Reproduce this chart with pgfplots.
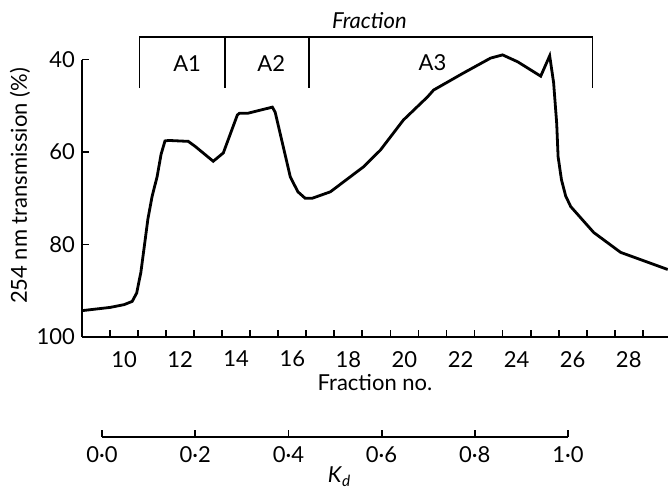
\documentclass[border=0pt]{standalone}
\usepackage{fontspec}
\setmainfont{Lato}
\usepackage{pgfplots}
\pgfplotsset{compat=1.18}

\begin{document}
\begin{tikzpicture}[x=1pt,y=1pt,font=\fontsize{11}{13}\selectfont]
\useasboundingbox (0,0) rectangle (334,-244);
% main trace
\begin{axis}[
    at={(41pt,-168.5pt)}, anchor=south west,
    scale only axis, width=293pt, height=138.75pt,
    xmin=8.5, xmax=29.4, ymin=40, ymax=100, y dir=reverse,
    axis x line=bottom, axis y line=left,
    axis line style={-, line width=0.9pt},
    tick align=inside, major tick length=3.5pt,
    tick style={line width=0.9pt, black},
    xtick={9.5,10.5,...,28.5}, xticklabels={},
    extra x ticks={10,12,...,28},
    extra x tick style={major tick length=0pt},
    xticklabel style={yshift=-3.5pt},
    ytick={40,60,80,100},
    /pgf/number format/assume math mode=true,
    xlabel={Fraction no.},
    xlabel style={at={(axis description cs:0.5,0)}, anchor=center, yshift=-23pt},
    ylabel={254 nm transmission (\%)},
    ylabel style={at={(axis description cs:-0.106,0.544)}, anchor=center},
    clip=false,
]
\addplot[black, line width=1.4pt] coordinates {
    (8.5,94.3) (9.5,93.6) (10.0,93.0) (10.29,92.3) (10.45,90.5)
    (10.6,86) (10.72,80.5) (10.85,74.5) (11.0,69.6) (11.18,65.3)
    (11.32,60.5) (11.46,57.6) (11.6,57.5)
    (12.29,57.7) (12.54,58.8) (13.18,62) (13.54,60.2) (14.04,52)
    (14.12,51.6) (14.43,51.6) (15.29,50.3) (15.39,51.4) (15.93,65.4)
    (16.2,68.6) (16.46,70) (16.71,70) (17.36,68.6) (18.54,63.2)
    (19.14,59.6) (19.96,53.1) (20.82,48.1) (21.04,46.6) (22.11,42.9)
    (23.07,39.7) (23.5,39.0) (24.04,40.5) (24.86,43.6) (25.18,39.2)
    (25.32,45) (25.43,53.8) (25.48,61) (25.6,66) (25.75,69.5) (25.93,71.8)
    (26.75,77.4) (27.71,81.7) (29.39,85.4)
};
% fraction brackets
\draw[line width=0.7pt] (10.55,46.2) -- (10.55,35.1) -- (26.7,35.1) -- (26.7,46.2);
\draw[line width=0.7pt] (13.6,35.1) -- (13.6,46.2);
\draw[line width=0.7pt] (16.6,35.1) -- (16.6,46.2);
\node at (12.25,40.8) {A1};
\node at (15.25,40.8) {A2};
\node at (21.0,40.6) {A3};
\node at (18.75,31.5) {\itshape Fraction};
\end{axis}
% Kd scale
\begin{axis}[
    at={(51pt,-218.5pt)}, anchor=south west,
    scale only axis, width=233pt, height=10pt,
    xmin=0, xmax=1, ymin=0, ymax=1,
    axis x line=bottom, axis y line=none,
    axis line style={-, line width=0.9pt},
    tick align=inside, major tick length=3.5pt,
    tick style={line width=0.9pt, black},
    xtick={0,0.2,0.4,0.6,0.8,1},
    xticklabels={0·0,0·2,0·4,0·6,0·8,1·0},
    xticklabel style={yshift=-1pt},
    ytick=\empty,
    xlabel={\textit{K}\textsubscript{\textit{d}}},
    xlabel style={at={(axis description cs:0.51,0)}, anchor=north, yshift=-11.5pt},
]
\end{axis}
\end{tikzpicture}
\end{document}
